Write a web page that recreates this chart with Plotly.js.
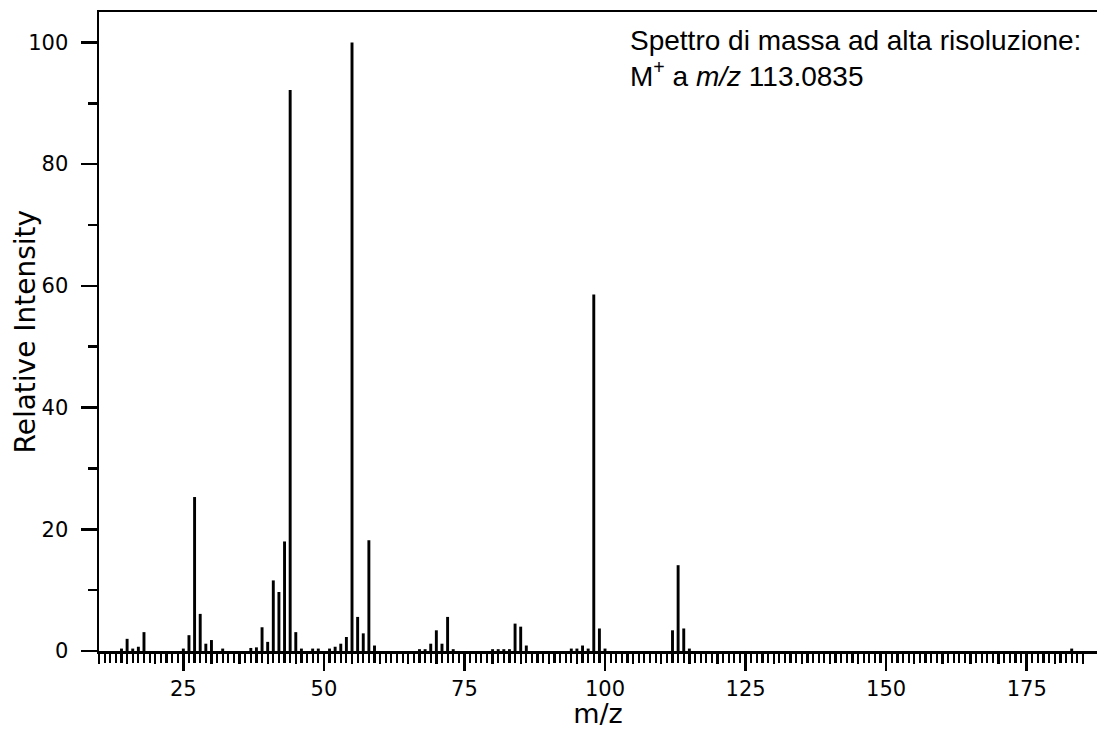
<!DOCTYPE html>
<html>
<head>
<meta charset="utf-8">
<script src="https://cdn.plot.ly/plotly-3.0.1.min.js"></script>
<style>html,body{margin:0;padding:0;background:#fff;}#chart{width:1100px;height:729px;}</style>
</head>
<body>
<div id="chart"></div>
<script>
// m/z values of the peaks
const mz = [14,15,16,17,18,25,26,27,28,29,30,32,37,38,39,40,41,42,43,44,45,46,48,49,51,52,53,54,55,56,57,58,59,67,68,69,70,71,72,73,80,81,82,83,84,85,86,94,95,96,97,98,99,100,112,113,114,115,183];
// relative intensities (%)
const intensity = [0.4,2.0,0.4,0.7,3.1,0.4,2.6,25.3,6.1,1.2,1.8,0.4,0.5,0.6,3.9,1.5,11.6,9.7,18.0,92.2,3.1,0.4,0.4,0.4,0.4,0.7,1.2,2.3,100,5.6,2.9,18.2,0.9,0.3,0.3,1.2,3.4,1.2,5.6,0.3,0.3,0.3,0.3,0.3,4.5,4.0,0.9,0.4,0.4,0.9,0.4,58.6,3.7,0.4,3.4,14.1,3.7,0.4,0.4];
// tick labels
const xTickVals = [25,50,75,100,125,150,175];
const xTickText = ["25","50","75","100","125","150","175"];
const yTickVals = [0,20,40,60,80,100];
const yTickText = ["0","20","40","60","80","100"];

const minorX = [];
for (let v = 10; v <= 185; v++) minorX.push(v);
const midX = [];
for (let v = 10; v <= 185; v += 5) midX.push(v);

const xRange = [10, 187.5];
const tickFont = {family: "DejaVu Sans", size: 21, color: "#000"};

const trace = {
  type: "bar",
  x: mz,
  y: intensity,
  width: 0.52,
  marker: {color: "#000", line: {width: 0}},
  hoverinfo: "skip"
};
// invisible helper trace to activate the secondary tick axis
const helper = {
  type: "scatter", x: [xRange[0]], y: [0], xaxis: "x2", yaxis: "y",
  mode: "markers", marker: {opacity: 0}, hoverinfo: "skip", showlegend: false
};

const layout = {
  width: 1100, height: 729,
  margin: {l: 99, r: 3, t: 12, b: 78, pad: 0},
  paper_bgcolor: "#fff", plot_bgcolor: "#fff",
  showlegend: false,
  hovermode: false,
  xaxis: {
    range: xRange,
    showgrid: false, zeroline: false,
    showline: true, linecolor: "#000", linewidth: 2.5, mirror: true,
    ticks: "outside", ticklen: 17, tickwidth: 2.5, tickcolor: "#000",
    tickmode: "array", tickvals: xTickVals, ticktext: xTickText,
    tickfont: tickFont,
    minor: {tickmode: "array", tickvals: minorX, ticks: "outside", ticklen: 9, tickwidth: 2.2, tickcolor: "#000", showgrid: false},
    title: {text: "m/z", font: {family: "DejaVu Sans", size: 27, color: "#000"}, standoff: 12}
  },
  xaxis2: {
    range: xRange, overlaying: "x", anchor: "y", side: "bottom",
    showgrid: false, zeroline: false, showline: false,
    ticks: "outside", ticklen: 12, tickwidth: 2.3, tickcolor: "#000",
    tickmode: "array", tickvals: midX, showticklabels: false
  },
  yaxis: {
    range: [0, 105],
    showgrid: false, zeroline: false,
    showline: true, linecolor: "#000", linewidth: 2.5,
    ticks: "outside", ticklen: 16, tickwidth: 2.5, tickcolor: "#000",
    tickmode: "array", tickvals: yTickVals, ticktext: yTickText,
    tickfont: tickFont,
    ticklabelstandoff: 8,
    minor: {dtick: 10, tick0: 0, ticks: "outside", ticklen: 9, tickwidth: 2.5, tickcolor: "#000", showgrid: false}
  },
  annotations: [
    {xref: "paper", yref: "paper", x: -0.0741, y: 0.5, xanchor: "center", yanchor: "middle",
     textangle: -90, text: "Relative Intensity", showarrow: false,
     font: {family: "DejaVu Sans", size: 28, color: "#000"}},
    {xref: "paper", yref: "paper", x: 0.530, y: 0.955, xanchor: "left", yanchor: "middle",
     text: "Spettro di massa ad alta risoluzione:", showarrow: false,
     font: {family: "Liberation Sans", size: 28, color: "#000"}},
    {xref: "paper", yref: "paper", x: 0.530, y: 0.9035, xanchor: "left", yanchor: "middle",
     text: "M<sup>+</sup> a <i>m/z</i> 113.0835", showarrow: false,
     font: {family: "Liberation Sans", size: 28, color: "#000"}}
  ]
};

Plotly.newPlot("chart", [trace, helper], layout, {displayModeBar: false, staticPlot: true});
</script>
</body>
</html>
